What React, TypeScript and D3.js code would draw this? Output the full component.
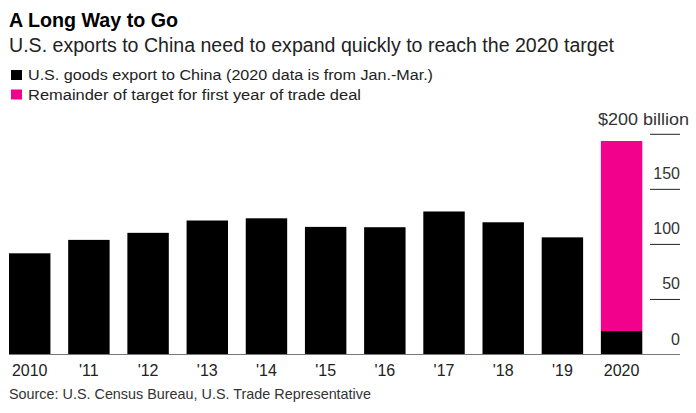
import React from 'react';
import * as d3 from 'd3';

const categories = ['2010', "'11", "'12", "'13", "'14", "'15", "'16", "'17", "'18", "'19", '2020'];
const exportValues = [91.9, 104.1, 110.5, 121.7, 123.7, 115.9, 115.6, 129.9, 120.1, 106.4, 21.3];
const remainderValues = [0, 0, 0, 0, 0, 0, 0, 0, 0, 0, 172.6];
const yTicks = [0, 50, 100, 150, 200];
const yTickLabels = ['0', '50', '100', '150', '$200 billion'];
const seriesKeys = ['exports', 'remainder'];
const seriesLabels = [
  'U.S. goods export to China (2020 data is from Jan.-Mar.)',
  'Remainder of target for first year of trade deal',
];
const seriesColors = ['#000000', '#f2028c'];

const W = 696;
const H = 413;
const FONT = "'Liberation Sans', Arial, Helvetica, sans-serif";

export default function App() {
  const x = d3.scaleBand<string>().domain(categories).range([9, 642.3]).paddingInner(0.3).paddingOuter(0);
  const y = d3.scaleLinear().domain([0, 200]).range([354.5, 134.3]);

  const rows = categories.map((c, i) => ({ cat: c, exports: exportValues[i], remainder: remainderValues[i] }));
  const stacked = d3.stack<any>().keys(seriesKeys)(rows);

  return (
    <svg width={W} height={H} style={{ position: 'absolute', left: 0, top: 0, background: '#fff' }} fontFamily={FONT}>
      <rect x={0} y={0} width={W} height={H} fill="#fff" />
      <text x={9} y={27} fontSize={20} fontWeight="bold" fill="#000" textLength={169} lengthAdjust="spacingAndGlyphs">A Long Way to Go</text>
      <text x={9} y={52} fontSize={20} fill="#222" textLength={605} lengthAdjust="spacingAndGlyphs">U.S. exports to China need to expand quickly to reach the 2020 target</text>

      {seriesLabels.map((lab, i) => (
        <g key={lab}>
          <rect x={11} y={70 + i * 19.5} width={11} height={10} fill={seriesColors[i]} />
          <text x={28} y={80 + i * 19.5} fontSize={15.5} fill="#222" textLength={i === 0 ? 405 : 333} lengthAdjust="spacingAndGlyphs">{lab}</text>
        </g>
      ))}

      {stacked.map((s, si) => (
        <g key={seriesKeys[si]} fill={seriesColors[si]}>
          {s.map((d: any, i: number) => (
            d[1] - d[0] > 0 ? (
              <rect key={i} x={x(categories[i])} width={x.bandwidth()} y={y(d[1])} height={y(d[0]) - y(d[1])} />
            ) : null
          ))}
        </g>
      ))}

      <line x1={9} x2={680} y1={y(0)} y2={y(0)} stroke="#777" strokeWidth={1} />
      {yTicks.map((t, i) => (
        <g key={t}>
          {t !== 0 && <line x1={650} x2={680} y1={y(t)} y2={y(t)} stroke="#222" strokeWidth={1} />}
          {t === 200 ? (
            <text x={689} y={y(t) - 9} fontSize={16} textAnchor="end" fill="#333" textLength={91} lengthAdjust="spacingAndGlyphs">{yTickLabels[i]}</text>
          ) : (
            <text x={680} y={y(t) - 10} fontSize={16} textAnchor="end" fill="#333">{yTickLabels[i]}</text>
          )}
        </g>
      ))}

      {categories.map((c) => (
        <text key={c} x={(x(c) as number) + x.bandwidth() / 2} y={376} fontSize={16} textAnchor="middle" fill="#222">{c}</text>
      ))}

      <text x={9} y={399} fontSize={15} fill="#333" textLength={362} lengthAdjust="spacingAndGlyphs">Source: U.S. Census Bureau, U.S. Trade Representative</text>
    </svg>
  );
}
